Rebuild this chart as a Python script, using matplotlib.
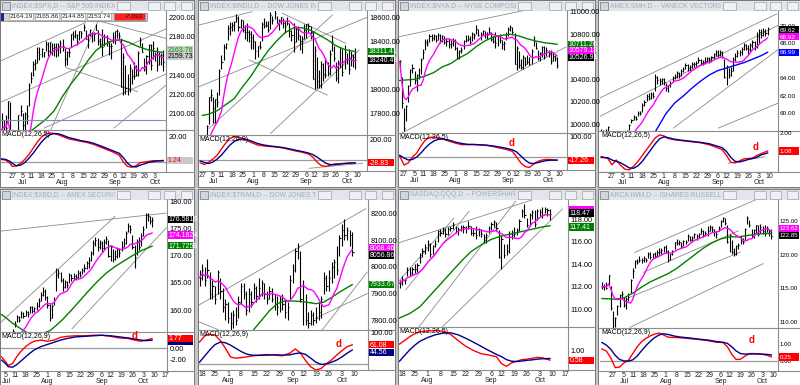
import numpy as np
import pandas as pd
import matplotlib
matplotlib.use("Agg")
import matplotlib.pyplot as plt
from matplotlib.patches import Rectangle
from matplotlib.transforms import Bbox

plt.rcParams['font.family'] = ['Liberation Sans', 'DejaVu Sans']

W, H = 800, 385

# ---------------- calendar (trading-day index 0 = 20 Jun 2016) ----------------
week_idx = [5, 10, 14, 19, 24, 29, 34, 39, 44, 49, 54, 58, 63, 68, 73, 78, 83]
week_lbl = ['27', '5', '11', '18', '25', '1', '8', '15', '22', '29', '6', '12', '19', '26', '3', '10', '17']
month_lbl = {10: 'Jul', 29: 'Aug', 54: 'Sep', 73: 'Oct'}

# ---------------- P1  S&P 500 ----------------
spx_start = 0
spx_close = [2083.3, 2088.9, 2085.5, 2113.3, 2037.4, 2000.5, 2036.1, 2070.8, 2098.9, 2103.0,
             2088.6, 2099.7, 2097.9, 2129.9, 2137.2, 2152.1, 2152.4, 2163.8, 2161.7, 2166.9,
             2163.8, 2173.0, 2165.2, 2175.0, 2168.5, 2169.2, 2166.6, 2170.1, 2173.6, 2170.8,
             2157.0, 2163.8, 2164.3, 2182.9, 2180.9, 2181.7, 2175.5, 2185.8, 2184.1, 2190.2,
             2178.2, 2182.2, 2187.0, 2183.9, 2182.6, 2186.9, 2175.4, 2172.5, 2169.0, 2180.4,
             2176.1, 2171.0, 2170.9, 2180.0, 2186.5, 2186.2, 2181.3, 2127.8, 2159.0, 2127.0,
             2125.8, 2147.3, 2139.2, 2139.1, 2139.8, 2163.1, 2177.2, 2164.7, 2146.1, 2159.9,
             2171.4, 2151.1, 2168.3, 2161.2, 2150.5, 2159.7, 2160.8, 2153.7]
spx_high = [2100.7, 2093.9, 2099.0, 2113.3, 2112.0, 2035.0, 2036.1, 2073.0, 2098.9, 2108.7,
            2100.7, 2102.0, 2109.0, 2131.7, 2143.0, 2155.4, 2156.5, 2169.0, 2169.1, 2168.4,
            2164.0, 2175.6, 2174.6, 2175.1, 2173.6, 2174.0, 2174.0, 2173.5, 2177.1, 2178.3,
            2168.1, 2165.0, 2168.2, 2183.0, 2186.2, 2187.7, 2183.2, 2186.3, 2186.3, 2193.8,
            2187.0, 2183.1, 2187.8, 2185.0, 2185.1, 2193.4, 2186.8, 2179.0, 2187.9, 2183.5,
            2182.3, 2175.9, 2173.6, 2184.9, 2186.6, 2187.9, 2184.9, 2179.0, 2163.3, 2150.5,
            2141.3, 2151.3, 2146.5, 2153.6, 2150.8, 2165.1, 2180.0, 2173.3, 2158.5, 2161.1,
            2172.4, 2172.7, 2175.3, 2164.4, 2169.6, 2164.0, 2162.9, 2165.9]
spx_low = [2071.6, 2082.0, 2082.0, 2094.0, 2032.0, 1991.7, 2004.0, 2044.0, 2070.0, 2097.8,
           2080.0, 2074.0, 2089.0, 2108.0, 2131.6, 2139.6, 2146.0, 2152.5, 2155.8, 2159.1,
           2159.0, 2165.2, 2159.8, 2163.2, 2161.4, 2159.8, 2159.1, 2160.2, 2163.5, 2165.0,
           2150.0, 2150.6, 2159.1, 2169.1, 2176.8, 2178.6, 2172.0, 2176.3, 2179.1, 2186.4,
           2178.1, 2168.5, 2180.5, 2175.1, 2176.0, 2186.8, 2171.3, 2169.7, 2160.4, 2170.2,
           2170.4, 2161.4, 2157.1, 2173.6, 2173.1, 2179.1, 2177.5, 2127.8, 2119.1, 2120.3,
           2119.9, 2122.4, 2131.2, 2135.9, 2139.2, 2139.6, 2170.1, 2164.0, 2145.0, 2141.6,
           2151.8, 2145.2, 2156.5, 2154.8, 2144.4, 2150.6, 2150.3, 2144.9]
spx_ma_i = [0, 8, 14, 21, 25, 29, 33, 37, 41, 45, 49, 53, 57, 61, 65, 69, 73, 77]
spx_ma = [2078, 2077, 2082, 2094, 2103, 2118, 2131, 2142, 2155, 2166, 2172, 2176, 2177, 2174, 2170, 2167, 2165, 2163.76]
spx_m_i = [0, 2, 4, 5, 7, 9, 11, 13, 15, 17, 19, 21, 23, 25, 27, 29, 32, 35, 38, 41, 44, 47, 50, 53, 56,
           58, 60, 62, 64, 66, 68, 70, 72, 74, 77]
spx_macd = [2.0, 1.5, -1.0, -3.5, -3.2, -1.0, 2.0, 6.0, 11.0, 16.0, 20.0, 22.5, 23.2, 22.8, 21.8, 20.5, 18.5,
            17.5, 16.5, 15.5, 14.0, 12.0, 10.0, 8.0, 5.5, 0.0, -3.5, -4.2, -3.0, -0.5, 0.0, 0.5, 1.0, 1.0, 1.24]
spx_sig = [2.5, 2.0, 0.5, -1.0, -3.0, -2.5, -0.5, 3.0, 7.0, 11.5, 16.0, 19.5, 21.8, 22.8, 22.5, 21.5, 19.5,
           18.3, 17.0, 16.2, 14.8, 13.0, 11.0, 9.0, 7.0, 3.5, -1.0, -3.5, -4.0, -2.5, -1.5, -0.3, 0.3, 0.8, 1.0]

# ---------------- P2  Dow Jones Industrials ----------------
dji_start = 5
dji_close = [17140, 17409, 17694, 17930, 17949, 17841, 17918, 17896, 18147, 18226,
             18347, 18372, 18506, 18516, 18533, 18559, 18595, 18517, 18571, 18493,
             18473, 18472, 18456, 18432, 18404, 18314, 18355, 18352, 18543, 18529,
             18533, 18495, 18613, 18576, 18636, 18552, 18573, 18597, 18552, 18529,
             18547, 18481, 18448, 18395, 18502, 18454, 18401, 18419, 18492, 18538,
             18526, 18479, 18085, 18325, 18067, 18034, 18212, 18124, 18120, 18130,
             18293, 18392, 18261, 18094, 18228, 18339, 18144, 18308, 18254, 18168,
             18281, 18269, 18240]
dji_high = [17355, 17409, 17704, 17930, 18003, 17934, 17919, 17975, 18170, 18283,
            18371, 18387, 18537, 18555, 18560, 18570, 18623, 18606, 18582, 18571,
            18530, 18548, 18490, 18480, 18460, 18403, 18357, 18404, 18561, 18589,
            18568, 18568, 18638, 18605, 18668, 18610, 18587, 18600, 18590, 18565,
            18598, 18554, 18493, 18550, 18521, 18522, 18446, 18441, 18538, 18538,
            18552, 18524, 18480, 18358, 18266, 18156, 18237, 18213, 18262, 18221,
            18327, 18449, 18362, 18227, 18241, 18345, 18337, 18365, 18300, 18332,
            18320, 18294, 18339]
dji_low = [17063, 17190, 17456, 17711, 17900, 17713, 17713, 17851, 17950, 18166,
           18245, 18334, 18410, 18450, 18480, 18480, 18560, 18487, 18510, 18474,
           18420, 18402, 18390, 18330, 18330, 18251, 18270, 18330, 18400, 18511,
           18513, 18474, 18502, 18540, 18580, 18550, 18489, 18545, 18505, 18469,
           18530, 18431, 18401, 18309, 18390, 18410, 18328, 18302, 18413, 18428,
           18474, 18420, 18085, 18000, 18010, 18008, 18010, 18071, 18095, 18110,
           18115, 18320, 18237, 18070, 18052, 18172, 18112, 18170, 18210, 18126,
           18189, 18181, 18167]
dji_ma_i = [5, 8, 12, 16, 20, 24, 28, 32, 36, 40, 44, 48, 52, 56, 60, 64, 68, 72, 77]
dji_ma = [17780, 17790, 17820, 17870, 17920, 18020, 18110, 18220, 18320, 18400, 18470, 18510, 18510,
          18490, 18450, 18410, 18360, 18330, 18311.41]
dji_m_i = [4, 6, 8, 10, 12, 14, 16, 18, 20, 22, 24, 26, 28, 31, 34, 37, 40, 43, 46, 49, 52, 55, 57, 59, 61,
           63, 65, 67, 69, 71, 73, 75, 77]
dji_macd = [-30, -45, -20, 10, 50, 110, 170, 215, 235, 230, 215, 195, 175, 150, 140, 135, 130, 120, 105, 90,
            78, 60, 30, -20, -55, -65, -55, -40, -38, -35, -32, -30, -28.83]
dji_sig = [-10, -25, -35, -20, 10, 50, 100, 150, 185, 205, 210, 205, 190, 165, 150, 140, 133, 125, 112, 98,
           85, 70, 55, 30, 0, -30, -45, -48, -42, -38, -34, -31, -29]

# ---------------- P3  NYSE Composite ----------------
nya_start = 3
nya_close = [10560, 10190, 9970, 10160, 10340, 10480, 10500, 10390, 10440, 10430,
             10570, 10640, 10730, 10720, 10780, 10770, 10780, 10750, 10790, 10740,
             10780, 10730, 10740, 10710, 10720, 10740, 10680, 10600, 10650, 10660,
             10740, 10750, 10760, 10730, 10800, 10790, 10850, 10790, 10800, 10830,
             10800, 10790, 10820, 10760, 10740, 10720, 10780, 10750, 10710, 10720,
             10800, 10850, 10860, 10820, 10540, 10680, 10530, 10510, 10600, 10540,
             10550, 10540, 10650, 10740, 10680, 10590, 10630, 10690, 10600, 10660,
             10630, 10560, 10610, 10590, 10527]
nya_high = [10570, 10420, 10150, 10170, 10350, 10490, 10540, 10470, 10450, 10500,
            10590, 10670, 10760, 10760, 10800, 10800, 10800, 10790, 10810, 10800,
            10790, 10780, 10770, 10770, 10750, 10770, 10760, 10690, 10660, 10690,
            10750, 10790, 10790, 10780, 10820, 10810, 10880, 10850, 10820, 10840,
            10830, 10820, 10860, 10820, 10780, 10820, 10790, 10800, 10750, 10740,
            10820, 10860, 10880, 10860, 10810, 10700, 10650, 10580, 10620, 10600,
            10620, 10600, 10670, 10780, 10730, 10660, 10640, 10700, 10700, 10690,
            10660, 10660, 10630, 10620, 10600]
nya_low = [10470, 10150, 9940, 10030, 10200, 10340, 10460, 10360, 10300, 10400,
           10450, 10580, 10660, 10700, 10730, 10740, 10750, 10730, 10750, 10720,
           10730, 10710, 10700, 10680, 10680, 10700, 10660, 10580, 10580, 10630,
           10670, 10730, 10740, 10710, 10740, 10760, 10800, 10780, 10750, 10790,
           10770, 10760, 10800, 10740, 10720, 10680, 10700, 10720, 10670, 10660,
           10750, 10780, 10830, 10800, 10540, 10480, 10500, 10490, 10490, 10520,
           10540, 10530, 10540, 10700, 10670, 10570, 10560, 10600, 10580, 10610,
           10600, 10540, 10560, 10560, 10500]
nya_ma_i = [3, 10, 15, 19, 23, 27, 31, 35, 39, 43, 47, 51, 55, 59, 63, 67, 71, 77]
nya_ma = [10390, 10400, 10430, 10460, 10510, 10540, 10590, 10630, 10690, 10740, 10775, 10790, 10800,
          10785, 10760, 10740, 10725, 10711.26]
nya_m_i = [3, 5, 7, 9, 11, 13, 15, 17, 19, 21, 23, 26, 29, 32, 35, 38, 41, 44, 47, 50, 53, 56, 58, 60, 62,
           64, 66, 68, 70, 72, 74, 77]
nya_macd = [5, -40, -30, 0, 20, 55, 85, 98, 100, 97, 92, 80, 70, 62, 62, 63, 60, 58, 52, 45, 38, 28, 0,
            -30, -48, -52, -35, -22, -15, -12, -13, -17.26]
nya_sig = [8, -5, -15, -12, 0, 20, 45, 65, 80, 88, 90, 85, 75, 68, 63, 62, 61, 59, 55, 50, 44, 36, 25, 5,
           -15, -30, -33, -28, -22, -18, -16, -15]

# ---------------- P4  SMH ----------------
smh_start = 0
smh_close = [57.8, 57.9, 57.7, 58.4, 56.2, 55.2, 55.9, 56.7, 57.4, 57.6,
             57.0, 57.5, 57.9, 58.7, 59.2, 59.6, 59.4, 60.1, 60.0, 61.0,
             61.3, 62.0, 61.8, 62.2, 62.0, 64.2, 63.8, 63.7, 63.9, 63.6,
             62.9, 63.2, 63.5, 64.1, 64.2, 64.6, 64.3, 64.9, 65.1, 65.5,
             65.2, 65.3, 65.7, 65.6, 65.8, 66.1, 65.8, 65.9, 66.0, 66.3,
             66.1, 66.4, 66.8, 67.0, 66.7, 67.0, 66.5, 64.2, 65.3, 64.4,
             64.8, 66.2, 66.6, 66.9, 67.0, 67.4, 67.8, 67.5, 67.4, 67.8,
             68.2, 67.6, 68.8, 69.3, 69.0, 69.4, 69.2, 69.62]
smh_high = [58.2, 58.1, 58.2, 58.6, 57.5, 56.0, 56.0, 56.8, 57.5, 57.8,
            57.4, 57.6, 58.1, 58.8, 59.4, 59.8, 59.7, 60.3, 60.3, 61.2,
            61.5, 62.2, 62.3, 62.4, 62.5, 64.5, 64.3, 64.0, 64.1, 64.0,
            63.5, 63.3, 63.7, 64.3, 64.5, 64.8, 64.7, 65.1, 65.3, 65.8,
            65.6, 65.5, 65.9, 65.9, 66.0, 66.4, 66.2, 66.1, 66.5, 66.5,
            66.5, 66.6, 66.9, 67.2, 67.2, 67.2, 67.1, 66.2, 65.5, 65.2,
            65.3, 66.4, 66.9, 67.2, 67.3, 67.6, 68.0, 67.9, 67.8, 68.0,
            68.4, 68.3, 69.3, 69.6, 69.6, 69.8, 69.7, 69.9]
smh_low = [57.5, 57.6, 57.6, 57.9, 56.0, 54.9, 55.5, 56.2, 56.8, 57.2,
           56.8, 56.7, 57.5, 58.1, 58.9, 59.2, 59.2, 59.7, 59.8, 60.2,
           60.9, 61.4, 61.5, 61.7, 61.8, 62.6, 63.4, 63.2, 63.4, 63.2,
           62.6, 62.5, 63.0, 63.6, 63.9, 64.1, 64.0, 64.3, 64.7, 65.1,
           64.9, 64.8, 65.2, 65.3, 65.4, 65.8, 65.5, 65.5, 65.6, 65.9,
           65.8, 65.9, 66.2, 66.6, 66.4, 66.6, 66.3, 64.1, 63.2, 64.1,
           64.3, 64.8, 66.0, 66.4, 66.6, 66.7, 67.3, 67.2, 66.8, 67.0,
           67.5, 67.2, 67.5, 68.1, 68.6, 68.9, 68.8, 69.0]
smh_ma_i = [25, 30, 34, 38, 42, 46, 50, 54, 58, 62, 66, 70, 74, 77]
smh_ma = [57.9, 60.0, 61.2, 62.0, 62.9, 63.7, 64.4, 64.9, 65.2, 65.5, 65.8, 66.2, 66.6, 66.99]
smh_m_i = [0, 3, 5, 7, 9, 11, 13, 15, 17, 19, 21, 23, 25, 27, 29, 31, 34, 38, 42, 46, 50, 53, 56, 58, 60,
           62, 64, 66, 68, 70, 72, 74, 77]
smh_macd = [0.80, 0.70, 0.38, 0.62, 0.35, 0.15, 0.12, 0.30, 0.55, 0.85, 1.15, 1.45, 1.75, 1.90, 1.85, 1.72,
            1.65, 1.60, 1.55, 1.50, 1.40, 1.28, 1.15, 0.85, 0.50, 0.48, 0.58, 0.68, 0.70, 0.72, 0.85, 0.95, 1.08]
smh_sig = [0.75, 0.74, 0.62, 0.55, 0.48, 0.35, 0.22, 0.20, 0.32, 0.55, 0.85, 1.15, 1.45, 1.70, 1.80, 1.76,
           1.68, 1.62, 1.57, 1.52, 1.45, 1.35, 1.25, 1.05, 0.75, 0.55, 0.52, 0.58, 0.65, 0.70, 0.76, 0.88, 0.98]

# ---------------- P5  Broker/Dealer index ----------------
xbd_start = 8
xbd_close = [154.0, 154.5, 152.5, 153.5, 154.0, 156.2, 157.5, 158.8, 158.2, 159.4,
             159.0, 159.6, 159.3, 160.5, 159.8, 160.4, 160.8, 161.6, 162.8, 163.6,
             162.5, 161.0, 158.6, 160.8, 161.8, 166.5, 166.8, 165.6, 164.2, 165.2,
             164.6, 166.4, 165.9, 166.3, 166.0, 166.8, 166.5, 167.4, 167.8, 168.6,
             169.2, 170.4, 172.4, 172.9, 171.5, 172.3, 171.4, 172.5, 173.0, 170.0,
             171.6, 169.4, 170.0, 171.2, 170.4, 171.6, 172.4, 174.2, 175.4, 174.8,
             171.6, 169.8, 172.6, 171.6, 173.6, 174.8, 177.4, 177.2, 176.4, 176.58]
xbd_high = [154.6, 155.0, 154.0, 154.2, 154.8, 156.6, 158.0, 159.2, 159.0, 159.8,
            159.7, 160.0, 159.8, 160.8, 160.7, 160.6, 161.5, 162.3, 163.4, 164.2,
            163.8, 162.6, 161.2, 161.2, 162.4, 167.8, 167.5, 167.0, 165.9, 165.6,
            165.4, 166.9, 166.7, 166.8, 166.6, 167.3, 167.2, 167.8, 168.5, 169.0,
            169.8, 170.8, 172.8, 173.4, 173.2, 172.8, 172.6, 173.0, 173.6, 172.8,
            172.0, 171.2, 171.0, 171.6, 171.4, 172.6, 173.2, 174.6, 176.0, 175.6,
            173.8, 172.0, 173.0, 173.4, 174.2, 175.4, 177.8, 177.8, 177.3, 177.0]
xbd_low = [153.2, 153.8, 152.0, 152.6, 153.4, 154.2, 157.0, 157.8, 157.8, 158.6,
           158.6, 158.9, 158.8, 159.5, 159.4, 159.6, 160.0, 160.5, 161.6, 162.6,
           161.8, 160.4, 158.0, 158.6, 160.9, 163.5, 165.9, 165.2, 163.6, 164.0,
           164.0, 164.9, 165.4, 165.6, 165.5, 165.8, 166.0, 166.6, 167.0, 167.6,
           167.8, 169.0, 170.2, 171.8, 170.8, 171.2, 170.6, 171.0, 172.2, 169.8,
           169.0, 168.8, 169.2, 169.6, 169.8, 170.8, 171.6, 172.2, 174.4, 174.2,
           171.2, 167.8, 170.2, 171.0, 171.8, 173.6, 175.0, 176.4, 175.8, 175.2]
xbd_ma_i = [8, 10, 13, 16, 20, 25, 30, 33, 36, 40, 44, 48, 52, 56, 60, 64, 68, 72, 77]
xbd_ma = [159.2, 158.6, 157.6, 156.8, 155.8, 155.5, 156.2, 157.2, 158.3, 160.0, 161.8, 163.6, 165.3,
          166.8, 168.0, 169.0, 170.0, 170.9, 171.73]
xbd_m_i = [8, 10, 11, 13, 15, 17, 19, 21, 23, 26, 29, 32, 35, 38, 42, 46, 50, 54, 58, 62, 66, 69, 72, 74, 77]
xbd_macd = [-1.6, -2.6, -3.2, -2.8, -1.5, -0.5, 0.3, 0.9, 1.3, 1.5, 1.3, 1.5, 2.0, 2.2, 2.3, 2.3, 2.4, 2.4,
            2.2, 1.9, 1.8, 1.5, 1.3, 1.5, 1.77]
xbd_sig = [-2.2, -2.9, -3.4, -3.5, -3.0, -2.3, -1.6, -0.9, -0.3, 0.3, 0.7, 1.1, 1.5, 1.8, 2.1, 2.2, 2.3, 2.4,
           2.3, 2.1, 1.9, 1.7, 1.5, 1.4, 1.5]

# ---------------- P6  Dow Jones Transportation ----------------
trn_start = 18
trn_close = [7960, 7990, 7950, 7990, 7900, 7930, 7880, 7980, 7910, 7850,
             7860, 7810, 7790, 7820, 7800, 7870, 7930, 7900, 7840, 7900,
             7870, 7920, 7890, 7920, 7940, 7900, 7880, 7910, 7880, 7860,
             7850, 7880, 7860, 7830, 7850, 7950, 7990, 8060, 8080, 7880,
             7930, 7800, 7790, 7820, 7800, 7810, 7830, 7880, 7960, 7930,
             7960, 8000, 8020, 7990, 8110, 8140, 8120, 8140, 8120, 8057]
trn_high = [7990, 8010, 8000, 8030, 7980, 7950, 7930, 7990, 7960, 7920,
            7880, 7870, 7830, 7840, 7850, 7890, 7940, 7940, 7910, 7920,
            7910, 7940, 7930, 7960, 7950, 7940, 7910, 7930, 7920, 7900,
            7890, 7890, 7900, 7880, 7870, 7970, 8010, 8070, 8090, 8060,
            7950, 7900, 7830, 7840, 7830, 7850, 7870, 7890, 7980, 7970,
            7990, 8020, 8030, 8080, 8120, 8160, 8180, 8150, 8140, 8130]
trn_low = [7930, 7950, 7930, 7960, 7880, 7880, 7860, 7900, 7880, 7830,
           7800, 7790, 7760, 7770, 7780, 7810, 7860, 7880, 7820, 7830,
           7850, 7880, 7870, 7880, 7890, 7880, 7860, 7880, 7870, 7840,
           7820, 7830, 7840, 7810, 7800, 7880, 7940, 7980, 8030, 7870,
           7780, 7780, 7770, 7780, 7780, 7790, 7800, 7810, 7900, 7910,
           7910, 7940, 7960, 7970, 8040, 8080, 8100, 8100, 8080, 8040]
trn_ma_i = [39, 42, 45, 48, 51, 55, 59, 63, 66, 69, 72, 75, 77]
trn_ma = [7765, 7800, 7835, 7862, 7872, 7872, 7868, 7862, 7868, 7885, 7905, 7922, 7933.67]
trn_m_i = [18, 20, 22, 24, 26, 28, 30, 32, 34, 36, 38, 41, 44, 47, 50, 53, 55, 57, 59, 61, 63, 65, 67, 69,
           71, 73, 75, 77]
trn_macd = [70, 90, 95, 93, 75, 50, 22, 18, 20, 22, 25, 28, 30, 28, 26, 35, 48, 35, 10, -10, -20, -15, 0,
            12, 28, 42, 55, 61.08]
trn_sig = [5, 25, 45, 62, 70, 68, 60, 50, 40, 32, 28, 27, 28, 29, 28, 29, 33, 35, 30, 18, 5, -2, 0, 5, 12,
           22, 34, 44.56]

# ---------------- P7  QQQ ----------------
qqq_start = 18
qqq_close = [112.3, 112.7, 112.6, 113.5, 113.2, 113.6, 113.6, 113.9, 114.6, 115.2,
             115.5, 115.8, 114.9, 115.6, 115.8, 116.9, 116.8, 117.0, 116.7, 117.1,
             117.2, 117.5, 116.9, 117.1, 117.3, 117.3, 117.2, 117.4, 116.8, 116.8,
             116.6, 117.0, 116.7, 116.4, 116.6, 117.2, 117.6, 117.7, 117.2, 114.6,
             116.2, 114.8, 115.2, 116.7, 116.6, 116.7, 117.0, 117.8, 118.7, 118.4,
             117.5, 118.4, 118.6, 117.6, 118.7, 118.6, 118.4, 118.9, 118.8, 118.47]
qqq_high = [112.6, 112.9, 112.8, 113.7, 113.7, 113.7, 114.0, 114.1, 115.0, 115.4,
            115.8, 116.1, 115.9, 115.7, 116.1, 117.0, 117.1, 117.3, 117.2, 117.3,
            117.4, 117.7, 117.4, 117.3, 117.5, 117.5, 117.4, 117.8, 117.4, 117.1,
            117.4, 117.2, 117.1, 116.7, 116.8, 117.4, 117.7, 117.9, 117.7, 117.0,
            116.5, 115.8, 115.8, 116.9, 117.0, 117.3, 117.2, 118.0, 118.9, 119.3,
            118.1, 118.5, 118.8, 118.8, 118.9, 118.9, 119.1, 119.1, 119.0, 118.9]
qqq_low = [111.9, 112.1, 112.2, 112.9, 112.9, 113.0, 113.2, 113.3, 114.1, 114.6,
           114.9, 115.2, 114.6, 114.9, 115.5, 116.0, 116.5, 116.7, 116.4, 116.6,
           116.9, 117.1, 116.8, 116.6, 116.9, 116.8, 116.8, 117.1, 116.6, 116.5,
           116.2, 116.5, 116.4, 115.9, 115.9, 116.8, 117.0, 117.3, 116.9, 114.5,
           113.6, 114.5, 114.8, 115.0, 116.2, 116.4, 116.6, 116.9, 118.2, 118.1,
           117.3, 117.4, 118.0, 117.3, 117.9, 118.3, 118.1, 118.5, 118.3, 117.9]
qqq_ma_i = [18, 22, 26, 30, 34, 38, 42, 46, 50, 54, 58, 62, 66, 70, 74, 77]
qqq_ma = [109.2, 109.6, 110.2, 111.2, 112.2, 113.2, 114.2, 115.1, 115.7, 116.2, 116.5, 116.7, 116.9,
          117.1, 117.3, 117.41]
qqq_m_i = [18, 20, 22, 24, 26, 29, 32, 35, 38, 41, 44, 47, 50, 53, 56, 58, 60, 62, 64, 66, 68, 70, 72, 74, 77]
qqq_macd = [1.30, 1.45, 1.62, 1.75, 1.83, 1.87, 1.88, 1.86, 1.72, 1.45, 1.20, 1.02, 0.88, 0.82, 0.75, 0.45,
            0.33, 0.48, 0.55, 0.62, 0.64, 0.68, 0.72, 0.70, 0.60]
qqq_sig = [0.55, 0.80, 1.05, 1.25, 1.42, 1.58, 1.70, 1.77, 1.79, 1.70, 1.55, 1.38, 1.20, 1.02, 0.85, 0.75,
           0.62, 0.55, 0.54, 0.56, 0.59, 0.61, 0.64, 0.66, 0.67]

# ---------------- P8  IWM ----------------
iwm_start = 0
iwm_close = [115.2, 115.4, 115.1, 117.0, 112.1, 108.8, 110.6, 112.4, 114.0, 114.2,
             112.6, 113.5, 113.8, 116.2, 117.6, 119.1, 118.9, 119.3, 119.2, 119.6,
             119.3, 120.2, 119.7, 120.2, 119.8, 120.5, 120.4, 120.8, 121.2, 120.6,
             119.3, 120.1, 120.6, 121.9, 121.8, 122.0, 121.3, 122.1, 121.9, 122.9,
             122.3, 122.6, 123.1, 122.8, 123.1, 123.6, 123.0, 123.3, 123.6, 124.2,
             123.8, 123.4, 123.2, 124.0, 125.1, 125.5, 124.8, 121.9, 123.0, 120.4,
             120.1, 121.3, 121.5, 122.1, 122.0, 123.8, 125.5, 124.4, 122.9, 123.7,
             124.4, 123.1, 124.2, 123.5, 123.3, 124.0, 123.6, 122.85]
iwm_high = [116.0, 115.7, 115.9, 117.0, 115.4, 111.6, 110.7, 112.6, 114.1, 114.6,
            113.7, 113.7, 114.3, 116.4, 118.0, 119.3, 119.4, 119.8, 119.6, 119.9,
            119.6, 120.4, 120.4, 120.3, 120.4, 120.7, 121.0, 121.0, 121.4, 121.5,
            120.7, 120.2, 120.8, 122.0, 122.4, 122.2, 122.0, 122.3, 122.3, 123.1,
            122.8, 122.8, 123.3, 123.1, 123.3, 124.0, 123.7, 123.5, 124.3, 124.4,
            124.3, 123.8, 123.6, 124.3, 125.2, 125.7, 125.5, 124.5, 123.2, 122.2,
            121.0, 121.5, 121.8, 122.8, 122.6, 124.0, 125.8, 125.2, 123.9, 123.8,
            124.5, 124.5, 124.6, 124.3, 124.5, 124.3, 123.9, 123.9]
iwm_low = [114.9, 114.8, 114.9, 115.5, 111.8, 108.5, 109.2, 111.0, 112.3, 113.6,
           112.2, 111.9, 113.2, 114.3, 116.6, 118.0, 118.6, 118.9, 118.8, 119.0,
           118.9, 119.5, 119.4, 119.6, 119.5, 119.7, 120.0, 120.1, 120.5, 120.3,
           119.0, 119.2, 120.0, 120.9, 121.5, 121.5, 121.0, 121.3, 121.6, 122.1,
           122.1, 121.9, 122.5, 122.3, 122.5, 123.2, 122.7, 122.8, 122.9, 123.5,
           123.4, 122.9, 122.5, 123.5, 124.1, 124.9, 124.5, 121.8, 120.5, 120.1,
           119.8, 120.0, 120.9, 121.7, 121.6, 122.2, 124.6, 124.1, 122.6, 122.5,
           123.3, 122.8, 123.3, 123.2, 122.9, 123.4, 122.9, 122.4]
iwm_ma_i = [0, 6, 10, 14, 18, 22, 26, 30, 34, 38, 42, 46, 50, 54, 58, 62, 66, 70, 74, 77]
iwm_ma = [113.5, 113.4, 113.6, 114.3, 115.2, 116.0, 116.6, 117.2, 118.0, 119.0, 120.0, 121.0, 121.8,
          122.4, 122.7, 122.7, 122.9, 123.1, 123.2, 123.2]
iwm_m_i = [0, 2, 4, 6, 8, 10, 12, 14, 16, 18, 20, 22, 24, 26, 28, 30, 33, 36, 40, 44, 48, 52, 55, 57, 59,
           61, 63, 65, 67, 69, 71, 73, 75, 77]
iwm_macd = [0.72, 0.60, 0.20, -0.38, -0.35, -0.10, 0.05, 0.45, 0.85, 1.15, 1.35, 1.50, 1.60, 1.66, 1.55,
            1.42, 1.40, 1.38, 1.33, 1.28, 1.22, 1.12, 1.10, 0.85, 0.40, 0.10, 0.12, 0.30, 0.45, 0.45, 0.42,
            0.40, 0.35, 0.25]
iwm_sig = [1.10, 0.95, 0.70, 0.35, 0.10, 0.02, 0.00, 0.08, 0.30, 0.62, 0.92, 1.18, 1.40, 1.55, 1.62, 1.58,
           1.48, 1.42, 1.37, 1.30, 1.25, 1.16, 1.12, 1.05, 0.85, 0.60, 0.45, 0.42, 0.42, 0.43, 0.43, 0.42,
           0.40, 0.37]

# ---------------- drawn trendlines (day index, price) ----------------
spx_lines = [(-0.4, 2155, 40, 2195), (-0.4, 2112, 79, 2189), (20.2, 2085, 79, 2142), (53.5, 2085, 79, 2131),
             (23.4, 2083, 48.0, 2207), (30.6, 2148, 64.7, 2123), (45.6, 2197, 79, 2178)]
dji_lines = [(3.4, 18533, 28.4, 18644), (3.4, 18019, 83, 18600), (8.1, 17672, 66.3, 18617),
             (37.2, 17631, 78.9, 18325), (27, 18242, 63.9, 17950), (42.7, 18631, 72.6, 18381)]
nya_lines = [(2.65, 10778, 65.4, 11026), (2.65, 9910, 81.1, 10686)]
smh_lines = [(-0.56, 61.78, 81.2, 71.36), (-0.56, 59.67, 82.8, 70.21), (33.4, 58.33, 82, 67.33),
             (54.2, 58.33, 82, 61.2)]
xbd_lines = [(7.7, 174.5, 83.5, 177.8), (7.7, 157.8, 60, 177.2), (40.3, 156.6, 83.5, 175.1)]
trn_lines = [(17.8, 7857, 82.2, 8219), (17.8, 7794, 25.5, 7763), (65.4, 7763, 82.8, 7981),
             (62.8, 7807, 82.8, 7900)]
qqq_lines = [(17.8, 115.9, 72.7, 119.9), (20.4, 111.7, 45.3, 118.7), (25.6, 108.4, 63.6, 119.6),
             (34.8, 108.4, 81.9, 118.9), (17.8, 112.5, 39.4, 118.1)]
iwm_lines = [(15, 120.4, 70.3, 128.3), (18.8, 117.4, 62, 123.6), (12.7, 113.7, 62.7, 120.4),
             (12.7, 109.2, 73.3, 118.7)]
dji_mlines = [(55.3, -83, 80.4, -33)]
smh_mlines = [(58.8, 0.455, 75.8, 0.79)]

GREEN, BLUE, MAG = '#008000', '#0000ff', '#ff00ff'

# box spec: (value shown, text, face, text colour, level where the box is pinned)
panels = [
    dict(title='INDEX:$SPX,D -- S&P 500 INDEX', start=spx_start, close=spx_close, high=spx_high, low=spx_low,
         ma_i=spx_ma_i, ma=spx_ma, ma_c=GREEN, m_i=spx_m_i, macd=spx_macd, sig=spx_sig, lines=spx_lines, mlines=[],
         win=(0, 194, 0, 187), px=(1, 166), pb=130, mb=172, xlim=(-0.3, 78.3), pylim=(2083, 2207), mylim=(-8.0, 25.6),
         pticks=[2200, 2180, 2140, 2120, 2100], mticks=[20], lfs=5.3, pad=1.8,
         boxes=[(2163.76, '2163.76', '#c8c8c8', '#00a000', 2166.5), (2159.73, '2159.73', '#c8c8c8', 'black', 2159.7)],
         mboxes=[(1.24, '1.24', '#c8c8c8', 'red', 1.24)], d=None, mlab='MACD(12,26,5)'),
    dict(title='INDEX:$INDU,D -- DOW JONES INDUSTRIALS', start=dji_start, close=dji_close, high=dji_high, low=dji_low,
         ma_i=dji_ma_i, ma=dji_ma, ma_c=GREEN, m_i=dji_m_i, macd=dji_macd, sig=dji_sig, lines=dji_lines, mlines=dji_mlines,
         win=(198, 395, 0, 187), px=(199, 367), pb=135, mb=171, xlim=(3.4, 82.6), pylim=(17617, 18650), mylim=(-110, 250),
         pticks=[18600, 18400, 18000, 17800], mticks=[200], lfs=5.3, pad=1.8,
         boxes=[(18311.41, '18311.41', GREEN, 'white', 18311.41), (18240.49, '18240.49', 'black', 'white', 18240.49)],
         mboxes=[(-28.83, '-28.83', '#ff0000', 'white', -28.83)], d=None, mlab='MACD(12,26,9)'),
    dict(title='INDEX:$NYA,D -- NYSE COMPOSITE INDEX', start=nya_start, close=nya_close, high=nya_high, low=nya_low,
         ma_i=nya_ma_i, ma=nya_ma, ma_c=GREEN, m_i=nya_m_i, macd=nya_macd, sig=nya_sig, lines=nya_lines, mlines=[],
         win=(398, 595, 0, 187), px=(399, 567), pb=133, mb=170, xlim=(2.65, 81.7), pylim=(9924, 11006), mylim=(-65, 120),
         pticks=[11000, 10800, 10400, 10200, 10000], mticks=[100], lfs=5.3, pad=1.8,
         boxes=[(10711.26, '10711.26', GREEN, 'white', 10711.26), (10579.18, '10579.18', MAG, 'white', 10655),
                (10526.91, '10526.91', 'black', 'white', 10594)],
         mboxes=[(-17.26, '-17.26', '#ff0000', 'white', -17.26)], d=(55.8, 70), mlab='MACD(12,26,5)'),
    dict(title='AMEX:SMH,D -- VANECK VECTORS SEMICONDUCTOR', start=smh_start, close=smh_close, high=smh_high, low=smh_low,
         ma_i=smh_ma_i, ma=smh_ma, ma_c=BLUE, m_i=smh_m_i, macd=smh_macd, sig=smh_sig, lines=smh_lines, mlines=smh_mlines,
         win=(598, 800, 0, 187), px=(600, 778), pb=131, mb=172, xlim=(-0.56, 81.8), pylim=(58.0, 71.7), mylim=(0.01, 2.10),
         pticks=[70, 68, 64, 62, 60], mticks=[2], lfs=4.6, pad=1.2,
         boxes=[(69.62, '69.62', 'black', 'white', 69.55), (68.92, '68.92', MAG, 'white', 68.75),
                (66.99, '66.99', BLUE, 'white', 66.99)],
         mboxes=[(1.08, '1.08', '#ff0000', 'white', 1.08)], d=(71.2, 1.30), mlab='MACD(12,26,5)'),
    dict(title='INDEX:$XBD,D -- AMEX SECURITIES BROKER/DEALER', start=xbd_start, close=xbd_close, high=xbd_high, low=xbd_low,
         ma_i=xbd_ma_i, ma=xbd_ma, ma_c=GREEN, m_i=xbd_m_i, macd=xbd_macd, sig=xbd_sig, lines=xbd_lines, mlines=[],
         win=(0, 194, 189, 385), px=(1, 167), pb=332, mb=371, xlim=(7.7, 83.85), pylim=(156.0, 180.2), mylim=(-4.2, 3.0),
         pticks=[180, 175, 170, 165, 160], mticks=[0, -2], lfs=5.3, pad=1.8,
         boxes=[(176.5816, '176.5816', 'black', 'white', 176.58), (174.1824, '174.1824', MAG, 'white', 173.8),
                (171.7258, '171.7258', GREEN, 'white', 171.8)],
         mboxes=[(1.45, '', '#000080', 'white', 1.3), (1.77, '1.77', '#ff0000', 'white', 1.77)], d=(69, 2.2),
         mlab='MACD(12,26,9)'),
    dict(title='INDEX:$TRAN,D -- DOW JONES TRANSPORTATION', start=trn_start, close=trn_close, high=trn_high, low=trn_low,
         ma_i=trn_ma_i, ma=trn_ma, ma_c=GREEN, m_i=trn_m_i, macd=trn_macd, sig=trn_sig, lines=trn_lines, mlines=[],
         win=(198, 395, 189, 385), px=(199, 368), pb=330, mb=370, xlim=(17.8, 83.1), pylim=(7763, 8252), mylim=(-20, 109),
         pticks=[8200, 8100, 8000, 7900, 7800], mticks=[100], lfs=5.3, pad=1.8,
         boxes=[(8068.46, '8068.46', MAG, 'white', 8072), (8056.86, '8056.86', 'black', 'white', 8045),
                (7933.67, '7933.67', GREEN, 'white', 7933.67)],
         mboxes=[(61.08, '61.08', '#ff0000', 'white', 61.08), (44.56, '44.56', '#000080', 'white', 37.5)], d=(71.8, 63),
         mlab='MACD(12,26,9)'),
    dict(title='NASDAQ:QQQ,D -- POWERSHARES QQQ', start=qqq_start, close=qqq_close, high=qqq_high, low=qqq_low,
         ma_i=qqq_ma_i, ma=qqq_ma, ma_c=GREEN, m_i=qqq_m_i, macd=qqq_macd, sig=qqq_sig, lines=qqq_lines, mlines=[],
         win=(398, 595, 189, 385), px=(399, 568), pb=327, mb=370, xlim=(17.8, 84.1), pylim=(108.4, 119.7), mylim=(0.17, 2.04),
         pticks=[118, 116, 114, 112, 110], mticks=[1], lfs=5.3, pad=1.8,
         boxes=[(118.8, '', MAG, 'white', 118.85), (118.47, '118.47', 'black', 'white', 118.55),
                (117.41, '117.41', GREEN, 'white', 117.3)],
         mboxes=[(0.58, '0.58', '#ff0000', 'white', 0.58)], d=None, mlab='MACD(12,26,5)'),
    dict(title='ARCA:IWM,D -- ISHARES RUSSELL 2000 ETF', start=iwm_start, close=iwm_close, high=iwm_high, low=iwm_low,
         ma_i=iwm_ma_i, ma=iwm_ma, ma_c=GREEN, m_i=iwm_m_i, macd=iwm_macd, sig=iwm_sig, lines=iwm_lines, mlines=[],
         win=(598, 800, 189, 385), px=(600, 778), pb=328, mb=371, xlim=(-0.9, 80.0), pylim=(109.1, 128.2), mylim=(-0.58, 1.96),
         pticks=[125, 120, 115, 110], mticks=[1, 0], lfs=4.4, pad=0.9,
         boxes=[(123.62, '123.62', MAG, 'white', 124.0), (122.85, '122.85', 'black', 'white', 122.95)],
         mboxes=[(0.25, '0.25', '#ff0000', 'white', 0.25)], d=(68.2, 1.23), mlab='MACD(12,26,9)'),
]

fig = plt.figure(figsize=(W / 100, H / 100), dpi=100)
fig.patch.set_facecolor('#c6c6c6')
bg = fig.add_axes([0, 0, 1, 1], zorder=0)
bg.set_xlim(0, W); bg.set_ylim(H, 0); bg.axis('off')
fg = fig.add_axes([0, 0, 1, 1], zorder=10)
fg.set_xlim(0, W); fg.set_ylim(H, 0); fg.axis('off')


def frac(x0, y0, x1, y1):
    return [x0 / W, 1 - y1 / H, (x1 - x0) / W, (y1 - y0) / H]


def value_boxes(ax, P, items):
    wx1 = P['win'][1]
    pr = P['px'][1]
    fs = min(P['lfs'], 5.0)
    for val, txt, fc, tc, at in items:
        yd = ax.transData.transform((0, at))[1]
        y = H - yd
        fg.add_patch(Rectangle((pr + 1, y - 3.6), wx1 - pr - 2.5, 7.2, fc=fc, ec='none'))
        if txt:
            fg.text(pr + 1.8, y + 0.2, txt, fontsize=fs, color=tc, va='center', ha='left')


for P in panels:
    wx0, wx1, wy0, wy1 = P['win']
    pl, pr = P['px']
    pt, pb, mb = wy0 + 11, P['pb'], P['mb']
    # window + title bar
    bg.add_patch(Rectangle((wx0, wy0), wx1 - wx0, wy1 - wy0, fc='white', ec='#767676', lw=0.7))
    bg.add_patch(Rectangle((wx0 + 0.5, wy0 + 0.5), wx1 - wx0 - 1, 10, fc='#e2e6eb', ec='none'))
    bg.add_patch(Rectangle((wx0 + 1.5, wy0 + 1.5), 8, 8, fc='#cfd5dc', ec='#6f7780', lw=0.5))
    t = bg.text(wx0 + 12, wy0 + 5.8, P['title'], fontsize=4.9, color='#a3acb8', va='center', ha='left')
    c0 = bg.transData.transform((wx0 + 10, wy0 + 10))
    c1 = bg.transData.transform((wx1 - 79, wy0))
    t.set_clip_box(Bbox.from_extents(c0[0], c0[1], c1[0], c1[1]))
    t.set_clip_on(True)
    for a, b in [(-77, -64), (-46, -34), (-30, -19), (-13, -2)]:
        bg.add_patch(Rectangle((wx1 + a, wy0 + 1.5), b - a, 8, fc='#eef0f3', ec='#9aa3ad', lw=0.5))
    # separators
    bg.plot([wx0, wx1], [pb, pb], color='#8c8c8c', lw=0.8)
    bg.plot([wx0, wx1], [mb, mb], color='#8c8c8c', lw=0.8)
    bg.plot([pr, pr], [pt, mb], color='#8c8c8c', lw=0.8)

    axp = fig.add_axes(frac(pl, pt, pr, pb), zorder=2)
    axm = fig.add_axes(frac(pl, pb, pr, mb), zorder=2)
    for ax in (axp, axm):
        ax.set_facecolor('none')
        for s in ax.spines.values():
            s.set_visible(False)
        ax.set_xlim(*P['xlim'])
    axp.set_ylim(*P['pylim'])
    axm.set_ylim(*P['mylim'])

    # price pane
    for a, b, c, d in P['lines']:
        axp.plot([a, c], [b, d], color='#8a8a8a', lw=0.6)
    n = len(P['close'])
    xs = np.arange(P['start'], P['start'] + n)
    axp.vlines(xs, P['low'], P['high'], color='black', lw=0.8)
    axp.hlines(P['close'], xs, xs + 0.5, color='black', lw=0.8)
    ma10 = pd.Series(P['close']).rolling(10, min_periods=1).mean()
    axp.plot(P['ma_i'], P['ma'], color=P['ma_c'], lw=1.0)
    axp.plot(xs, ma10, color=MAG, lw=1.0)
    axp.yaxis.tick_right()
    axp.set_yticks(P['pticks'])
    axp.set_yticklabels(['%.2f' % v for v in P['pticks']])
    axp.tick_params(axis='y', length=0, pad=P['pad'], labelsize=P['lfs'])
    axp.tick_params(axis='x', bottom=False, labelbottom=False)

    # MACD pane
    axm.axhline(0, color='#9a9a9a', lw=0.9)
    for a, b, c, d in P['mlines']:
        axm.plot([a, c], [b, d], color='#8a8a8a', lw=0.6)
    axm.plot(P['m_i'], P['macd'], color='#ff0000', lw=1.0)
    axm.plot(P['m_i'], P['sig'], color='#000090', lw=1.0)
    axm.yaxis.tick_right()
    axm.set_yticks(P['mticks'])
    axm.set_yticklabels(['%.2f' % v for v in P['mticks']])
    axm.tick_params(axis='y', length=0, pad=P['pad'], labelsize=P['lfs'])
    vis = [(i, l) for i, l in zip(week_idx, week_lbl) if P['xlim'][0] + 0.3 < i < P['xlim'][1] - 0.5]
    axm.set_xticks([i for i, _ in vis])
    axm.set_xticklabels([l for _, l in vis])
    axm.tick_params(axis='x', length=0, pad=0.8, labelsize=5.0, colors='#202020')
    for i, _ in vis:
        if i in month_lbl:
            axm.annotate(month_lbl[i], xy=(i, 0), xycoords=('data', 'axes fraction'), xytext=(0, -4.9),
                         textcoords='offset points', ha='center', va='top', fontsize=5.0, color='#202020',
                         annotation_clip=False)
    axm.text(0.005, 0.98, P['mlab'], transform=axm.transAxes, fontsize=5, va='top', ha='left')
    if P['d'] is not None:
        axm.text(P['d'][0], P['d'][1], 'd', color='red', fontsize=7, fontweight='bold', ha='center', va='center')
    if P is panels[0]:
        axp.axhline(2093, color='#7f8fb0', lw=0.8)

    value_boxes(axp, P, P['boxes'])
    value_boxes(axm, P, P['mboxes'])

# info bar of the S&P window
info_vals = ['2164.19', '2165.86', '2144.85', '2153.74']
fg.add_patch(Rectangle((1, 12.5), 146, 8, fc='#d4d4d4', ec='#808080', lw=0.5))
fg.add_patch(Rectangle((1, 12.5), 3, 8, fc='#1a2a8a', ec='none'))
for k, v in enumerate(info_vals):
    x0 = 9 + k * 26
    fg.add_patch(Rectangle((x0, 13.3), 24, 6.4, fc='white', ec='#909090', lw=0.4))
    fg.text(x0 + 12, 16.6, v, fontsize=4.6, ha='center', va='center', color='#202020')
fg.add_patch(Rectangle((114, 13.3), 31, 6.4, fc='#ff2020', ec='#909090', lw=0.4))
fg.text(143, 16.6, '-7.033', fontsize=4.6, ha='right', va='center', color='#300000')

fig.savefig('out.png', dpi=100)
